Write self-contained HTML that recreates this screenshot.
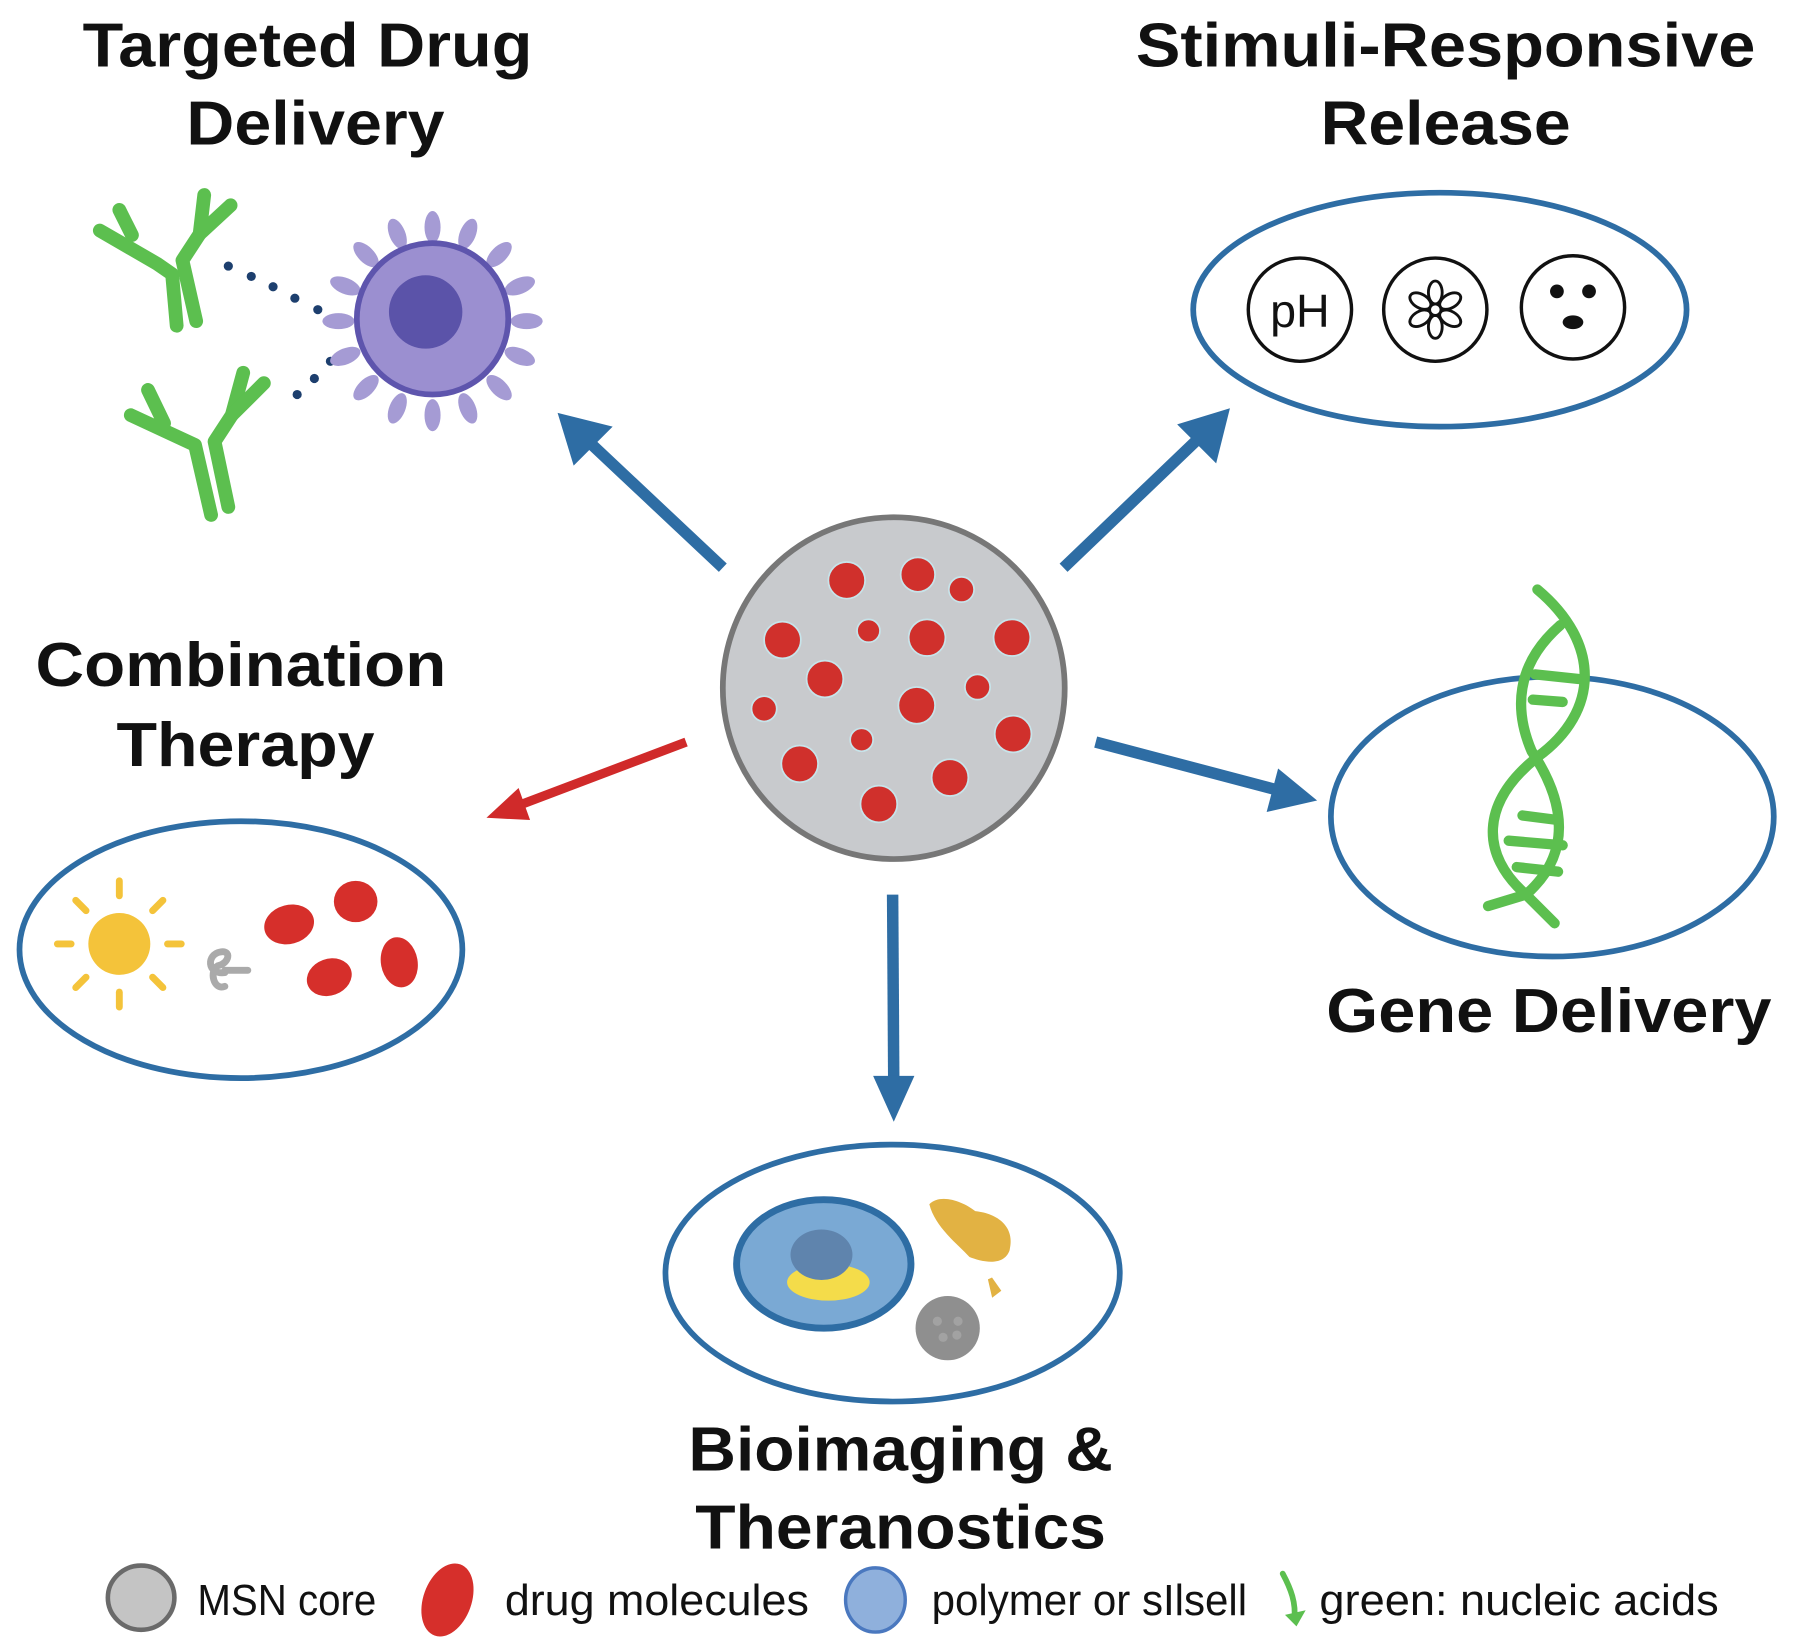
<!DOCTYPE html>
<html><head><meta charset="utf-8"><style>
html,body{margin:0;padding:0;background:#fff;}
svg{display:block;}
text{font-family:"Liberation Sans",sans-serif;}
.t{font-weight:bold;font-size:54px;fill:#111;text-anchor:middle;}
.l{font-size:38px;fill:#111;}
</style></head><body>
<svg width="1799" height="1647" viewBox="0 0 1568 1436" preserveAspectRatio="none" xmlns="http://www.w3.org/2000/svg">
<rect width="1568" height="1436" fill="#fff"/>
<!-- titles -->
<text class="t" x="268" y="58" textLength="392" lengthAdjust="spacingAndGlyphs">Targeted Drug</text>
<text class="t" x="275" y="126" textLength="225" lengthAdjust="spacingAndGlyphs">Delivery</text>
<text class="t" x="1260" y="58" textLength="540" lengthAdjust="spacingAndGlyphs">Stimuli-Responsive</text>
<text class="t" x="1260" y="126" textLength="218" lengthAdjust="spacingAndGlyphs">Release</text>
<text class="t" x="210" y="598" textLength="358" lengthAdjust="spacingAndGlyphs">Combination</text>
<text class="t" x="214" y="668" textLength="225" lengthAdjust="spacingAndGlyphs">Therapy</text>
<text class="t" x="1350" y="900" textLength="388" lengthAdjust="spacingAndGlyphs">Gene Delivery</text>
<text class="t" x="785" y="1282" textLength="370" lengthAdjust="spacingAndGlyphs">Bioimaging &amp;</text>
<text class="t" x="785" y="1350" textLength="358" lengthAdjust="spacingAndGlyphs">Theranostics</text>

<!-- antibodies -->
<g fill="none" stroke="#5cbf4f" stroke-width="12" stroke-linecap="round" stroke-linejoin="round">
<polyline points="87,201 137,230 150,239 154,284"/>
<polyline points="104,183 115,205"/>
<polyline points="178,170 174,204 159,227 171,280"/>
<polyline points="201,179 174,204"/>
<polyline points="114,362 170,388 184,449"/>
<polyline points="129,340 143,369"/>
<polyline points="212,325 202,362 187,385 199,442"/>
<polyline points="230,334 202,362"/>
</g>
<!-- dotted lines -->
<g fill="#1d3f6e">
<circle cx="199" cy="232" r="4"/><circle cx="219" cy="241" r="4"/><circle cx="238" cy="250" r="4"/><circle cx="257" cy="260" r="4"/><circle cx="277" cy="270" r="4"/>
<circle cx="259" cy="344" r="4"/><circle cx="274" cy="330" r="4"/><circle cx="288" cy="315" r="4"/>
</g>
<!-- cell spikes -->
<g fill="#a59bd4">
<ellipse cx="377" cy="198" rx="7" ry="14" transform="rotate(0 377 280)"/>
<ellipse cx="377" cy="198" rx="7" ry="14" transform="rotate(22 377 280)"/>
<ellipse cx="377" cy="198" rx="7" ry="14" transform="rotate(45 377 280)"/>
<ellipse cx="377" cy="198" rx="7" ry="14" transform="rotate(68 377 280)"/>
<ellipse cx="377" cy="198" rx="7" ry="14" transform="rotate(90 377 280)"/>
<ellipse cx="377" cy="198" rx="7" ry="14" transform="rotate(112 377 280)"/>
<ellipse cx="377" cy="198" rx="7" ry="14" transform="rotate(135 377 280)"/>
<ellipse cx="377" cy="198" rx="7" ry="14" transform="rotate(158 377 280)"/>
<ellipse cx="377" cy="198" rx="7" ry="14" transform="rotate(180 377 280)"/>
<ellipse cx="377" cy="198" rx="7" ry="14" transform="rotate(202 377 280)"/>
<ellipse cx="377" cy="198" rx="7" ry="14" transform="rotate(225 377 280)"/>
<ellipse cx="377" cy="198" rx="7" ry="14" transform="rotate(248 377 280)"/>
<ellipse cx="377" cy="198" rx="7" ry="14" transform="rotate(270 377 280)"/>
<ellipse cx="377" cy="198" rx="7" ry="14" transform="rotate(292 377 280)"/>
<ellipse cx="377" cy="198" rx="7" ry="14" transform="rotate(315 377 280)"/>
<ellipse cx="377" cy="198" rx="7" ry="14" transform="rotate(338 377 280)"/>
</g>
<circle cx="377" cy="278" r="66" fill="#9b8fd0" stroke="#5e55ad" stroke-width="5"/>
<circle cx="371" cy="272" r="32" fill="#5b53a9"/>

<!-- stimuli ellipse -->
<ellipse cx="1255" cy="270" rx="215" ry="102" fill="none" stroke="#2e6da4" stroke-width="5"/>
<g fill="none" stroke="#111" stroke-width="3">
<circle cx="1133" cy="270" r="45"/>
<circle cx="1251" cy="270" r="45"/>
<circle cx="1371" cy="268" r="45"/>
</g>
<text x="1133" y="285" font-size="40" text-anchor="middle" fill="#111" font-family="Liberation Sans" textLength="52" lengthAdjust="spacingAndGlyphs">pH</text>
<g fill="none" stroke="#111" stroke-width="2.5" transform="translate(1251 270)">
<ellipse cx="0" cy="-15" rx="6" ry="10"/><ellipse cx="0" cy="15" rx="6" ry="10"/>
<ellipse cx="0" cy="-15" rx="6" ry="10" transform="rotate(60)"/><ellipse cx="0" cy="15" rx="6" ry="10" transform="rotate(60)"/>
<ellipse cx="0" cy="-15" rx="6" ry="10" transform="rotate(-60)"/><ellipse cx="0" cy="15" rx="6" ry="10" transform="rotate(-60)"/>
<circle cx="0" cy="0" r="5" fill="#fff"/>
</g>
<g fill="#111"><circle cx="1357" cy="254" r="6"/><circle cx="1385" cy="254" r="6"/><ellipse cx="1371" cy="281" rx="9" ry="6"/></g>

<!-- arrows -->
<g stroke="#2e6da4" stroke-width="10" fill="#2e6da4">
<line x1="630" y1="495" x2="512" y2="384"/>
<line x1="927" y1="495" x2="1046" y2="381"/>
<line x1="955" y1="647" x2="1118" y2="690"/>
<line x1="778" y1="780" x2="779" y2="945"/>
</g>
<g fill="#2e6da4">
<polygon points="486,360 534,372 500,406"/>
<polygon points="1072,356 1060,404 1026,370"/>
<polygon points="1148,698 1104,708 1114,670"/>
<polygon points="779,978 761,938 797,938"/>
</g>
<line x1="598" y1="647" x2="450" y2="703" stroke="#d02a2a" stroke-width="8"/>
<polygon points="424,713 452,687 462,715" fill="#d02a2a"/>

<!-- center particle -->
<circle cx="779" cy="600" r="149" fill="#c8cacd" stroke="#777" stroke-width="5"/>
<g fill="#d0302c" stroke="#c7e4ea" stroke-width="1.5">
<circle cx="738" cy="506" r="16"/><circle cx="800" cy="501" r="15"/><circle cx="838" cy="514" r="11"/>
<circle cx="682" cy="558" r="16"/><circle cx="757" cy="550" r="10"/><circle cx="808" cy="556" r="16"/><circle cx="882" cy="556" r="16"/>
<circle cx="719" cy="592" r="16"/><circle cx="852" cy="599" r="11"/><circle cx="666" cy="618" r="11"/><circle cx="799" cy="615" r="16"/>
<circle cx="751" cy="645" r="10"/><circle cx="883" cy="640" r="16"/><circle cx="697" cy="666" r="16"/><circle cx="828" cy="678" r="16"/><circle cx="766" cy="701" r="16"/>
</g>

<!-- combination ellipse -->
<ellipse cx="210" cy="828" rx="193" ry="112" fill="none" stroke="#2e6da4" stroke-width="5"/>
<circle cx="104" cy="823" r="27" fill="#f4c33a"/>
<g stroke="#f4c33a" stroke-width="6" stroke-linecap="round">
<line x1="104" y1="781" x2="104" y2="768"/><line x1="104" y1="865" x2="104" y2="878"/>
<line x1="62" y1="823" x2="50" y2="823"/><line x1="146" y1="823" x2="158" y2="823"/>
<line x1="75" y1="794" x2="66" y2="785"/><line x1="133" y1="794" x2="142" y2="785"/>
<line x1="75" y1="852" x2="66" y2="861"/><line x1="133" y1="852" x2="142" y2="861"/>
</g>
<path d="M196,848 C180,850 180,832 192,830 C202,828 200,840 190,842 C182,846 186,864 196,860 M196,846 L216,846" fill="none" stroke="#aaa" stroke-width="6" stroke-linecap="round"/>
<g fill="#d62f2b">
<ellipse cx="252" cy="806" rx="22" ry="17" transform="rotate(-15 252 806)"/>
<ellipse cx="310" cy="786" rx="19" ry="18"/>
<ellipse cx="287" cy="852" rx="20" ry="16" transform="rotate(-20 287 852)"/>
<ellipse cx="348" cy="839" rx="16" ry="22" transform="rotate(-10 348 839)"/>
</g>

<!-- gene delivery -->
<ellipse cx="1353" cy="712" rx="193" ry="122" fill="none" stroke="#2e6da4" stroke-width="5"/>
<g fill="none" stroke="#5cbf4f" stroke-width="9" stroke-linecap="round">
<path d="M1340,514 C1395,560 1395,620 1340,660 C1290,700 1290,745 1330,780 L1355,805"/>
<path d="M1360,545 C1320,580 1320,620 1335,655 C1365,700 1370,745 1330,780 L1297,790"/>
<line x1="1338" y1="588" x2="1376" y2="592"/><line x1="1336" y1="610" x2="1362" y2="612"/>
<line x1="1327" y1="711" x2="1358" y2="715"/><line x1="1315" y1="733" x2="1362" y2="737"/><line x1="1322" y1="756" x2="1358" y2="760"/>
</g>

<!-- bioimaging -->
<ellipse cx="778" cy="1110" rx="198" ry="112" fill="none" stroke="#2e6da4" stroke-width="5"/>
<ellipse cx="718" cy="1102" rx="76" ry="56" fill="#7aa9d4" stroke="#2e6da4" stroke-width="6"/>
<ellipse cx="722" cy="1118" rx="36" ry="16" fill="#f4dc4a"/>
<ellipse cx="716" cy="1094" rx="27" ry="22" fill="#5f84ad"/>
<path d="M810,1050 C820,1040 840,1048 850,1056 C870,1058 885,1070 880,1090 C875,1105 855,1100 845,1096 C835,1085 815,1070 810,1050 Z" fill="#e2b243"/>
<path d="M863,1115 L870,1125 L866,1128 Z" fill="#e2b243" stroke="#e2b243" stroke-width="4"/>
<circle cx="826" cy="1158" r="28" fill="#8f8f8f"/>
<g fill="#a2a2a2"><circle cx="817" cy="1152" r="4"/><circle cx="835" cy="1152" r="4"/><circle cx="822" cy="1166" r="4"/><circle cx="834" cy="1164" r="4"/></g>

<!-- legend -->
<ellipse cx="123" cy="1393" rx="29" ry="28" fill="#c4c4c4" stroke="#6a6a6a" stroke-width="4"/>
<text class="l" x="172" y="1408" textLength="156" lengthAdjust="spacingAndGlyphs">MSN core</text>
<ellipse cx="390" cy="1395" rx="21" ry="33" transform="rotate(20 390 1395)" fill="#d62f2b"/>
<text class="l" x="440" y="1408" textLength="265" lengthAdjust="spacingAndGlyphs">drug molecules</text>
<ellipse cx="763" cy="1395" rx="26" ry="28" fill="#8fb0dc" stroke="#4a78bf" stroke-width="3"/>
<text class="l" x="812" y="1408" textLength="275" lengthAdjust="spacingAndGlyphs">polymer or sIlsell</text>
<path d="M1118,1372 C1125,1385 1130,1398 1128,1412" fill="none" stroke="#5cbf4f" stroke-width="5" stroke-linecap="round"/>
<polygon points="1120,1408 1138,1404 1130,1418" fill="#5cbf4f"/>
<text class="l" x="1150" y="1408" textLength="348" lengthAdjust="spacingAndGlyphs">green: nucleic acids</text>
</svg>
</body></html>
